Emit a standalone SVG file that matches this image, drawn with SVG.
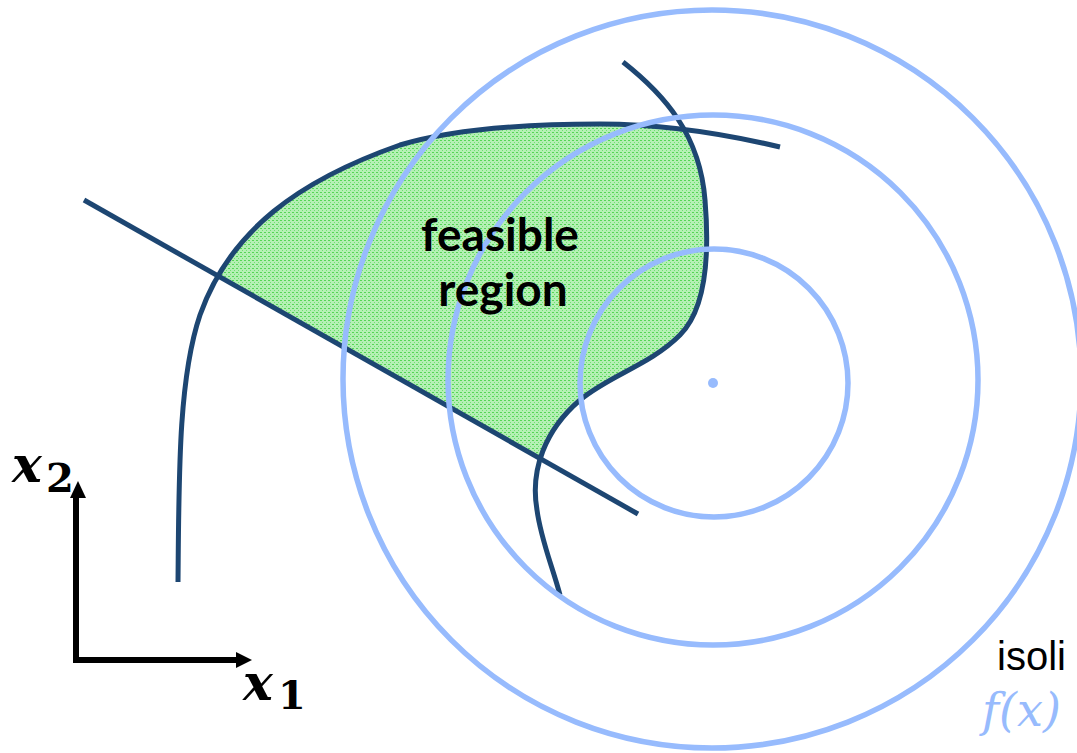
<svg xmlns="http://www.w3.org/2000/svg" width="1077" height="753" viewBox="0 0 1077 753">
<style>
.con{fill:none;stroke:#1d4672;stroke-width:5;stroke-linecap:butt}
.iso{fill:none;stroke:#97bbfd;stroke-width:5.5}
.ax{fill:none;stroke:#000;stroke-width:6}
.lbl{font-family:"Lato","Liberation Sans",sans-serif;font-weight:bold;font-size:46px;fill:#000;text-anchor:middle}
.mx{font-family:"DejaVu Serif",serif;font-weight:bold;font-style:italic;font-size:50px;fill:#000}
.md{font-family:"DejaVu Serif",serif;font-weight:bold;font-size:40px;fill:#000}
</style>
<defs>
<pattern id="dots" width="4" height="4" patternUnits="userSpaceOnUse">
<rect width="4" height="4" fill="#b4f0b4"/>
<rect x="0" y="0" width="2" height="1" fill="#55d555"/>
<rect x="2" y="2" width="1" height="1" fill="#70de70"/>
</pattern>
</defs>
<rect width="1077" height="753" fill="#fff"/>
<g id="feasible-region">
<path d="M217.4,276.8 C253.2,214.4 316,174.4 400,145 C450,130 520,124 600,124 C624.3,124 651.5,125.2 684,129.2 C695.3,149.3 702.9,172.4 705,200 C710,260 705,310 680,335 C650,365 610,375 580,400 C560,417.1 546.6,437.5 540,459.2 Z" fill="url(#dots)"/>
</g>
<g id="constraints">
<path id="c-line" class="con" d="M84,200 L638,514"/>
<path id="c-left" class="con" d="M178,582 C179,480 178,380 200,315 C230,230 300,180 400,145 C450,130 520,124 600,124 C645,124 700,128 780,147"/>
<path id="c-s" class="con" d="M623,62 C665,95 700,135 705,200 C710,260 705,310 680,335 C650,365 610,375 580,400 C545,430 530,470 537,510 C541,540 552,565 560,595"/>
</g>
<g id="isolines">
<circle class="iso" cx="714" cy="383" r="134"/>
<circle class="iso" cx="713" cy="380" r="265"/>
<circle class="iso" cx="712" cy="379" r="369"/>
<circle cx="713" cy="383" r="5" fill="#97bbfd"/>
</g>
<g id="axes">
<path class="ax" d="M76,498 L76,660 L236,660"/>
<polygon points="78,481 70,498 86,498" fill="#000"/>
<polygon points="252,660 236,652 236,668" fill="#000"/>
</g>
<g id="label-x2"><text x="12" y="482" class="mx">x</text><text x="46" y="492" class="md">2</text></g>
<g id="label-x1"><text x="243" y="700" class="mx">x</text><text x="278" y="709" class="md">1</text></g>
<g id="label-feasible">
<text x="500" y="251" class="lbl">feasible</text>
<text x="503" y="306" class="lbl">region</text>
</g>
<g id="label-iso">
<text x="997" y="670" font-family="Liberation Sans, sans-serif" font-size="40" fill="#000">isoli</text>
<text x="982" y="726" font-family="DejaVu Serif, serif" font-style="italic" font-size="46" fill="#97bbfd">f(x)</text>
</g>
</svg>
